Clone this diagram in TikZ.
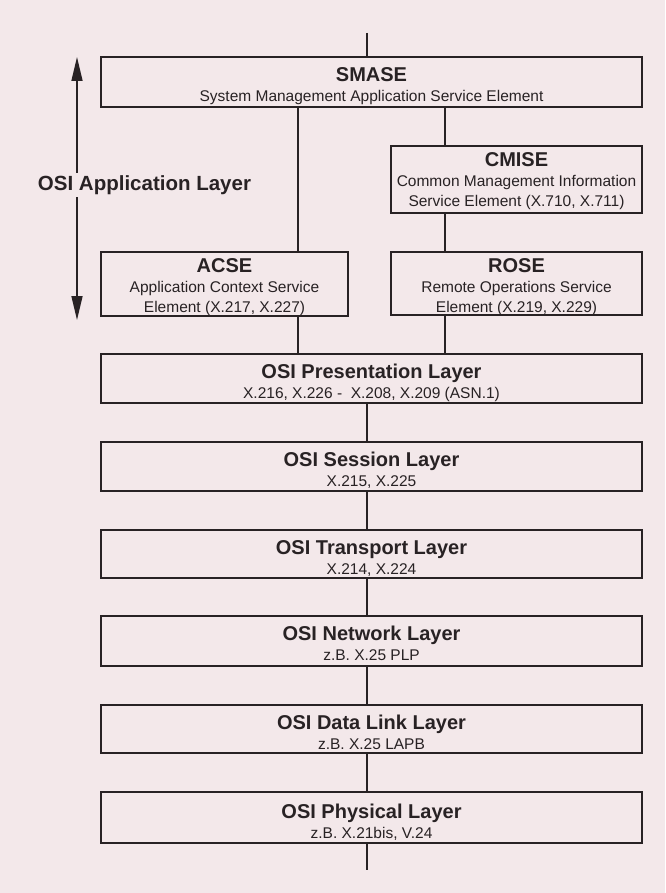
\documentclass[tikz,border=0pt]{standalone}
\usepackage{fontspec}
\setmainfont{Liberation Sans}
\usetikzlibrary{arrows.meta}
\definecolor{bg}{RGB}{243,232,234}
\definecolor{ink}{RGB}{40,34,36}
\newcommand\ttl[1]{{\bfseries\fontsize{20}{20}\selectfont #1}}
\begin{document}
\begin{tikzpicture}[x=1pt,y=-1pt,font=\fontsize{15.5}{20}\selectfont]
\tikzset{
  blk/.style={draw=ink, line width=1.7pt, align=center, inner sep=0pt, text=ink},
  hd/.style 2 args={text height=#1, text depth=#2},
  wire/.style={draw=ink, line width=1.6pt},
  dblarrow/.style={{Triangle[length=24pt,width=11pt]}-{Triangle[length=24pt,width=11pt]}}
}
\fill[bg] (0,0) rectangle (665,893);
\useasboundingbox (0,0) rectangle (665,893);

% boxes
\node[blk, minimum width=541pt, hd={44.5pt}{5.5pt}] (smase) at (371.5,82)
  {\ttl{SMASE}\\System Management Application Service Element};
\node[blk, minimum width=251pt, hd={60.5pt}{6.5pt}] (cmise) at (516.5,179.5)
  {\ttl{CMISE}\\Common Management Information\\Service Element (X.710, X.711)};
\node[blk, minimum width=247pt, hd={60pt}{4pt}] (acse) at (224.5,284)
  {\ttl{ACSE}\\Application Context Service\\Element (X.217, X.227)};
\node[blk, minimum width=251pt, hd={60pt}{3pt}] (rose) at (516.5,283.5)
  {\ttl{ROSE}\\Remote Operations Service\\Element (X.219, X.229)};
\node[blk, minimum width=541pt, hd={44pt}{5pt}] (pres) at (371.5,378.5)
  {\ttl{OSI Presentation Layer}\\X.216, X.226 -\ \ X.208, X.209 (ASN.1)};
\node[blk, minimum width=541pt, hd={44.5pt}{4.5pt}] (sess) at (371.5,466.5)
  {\ttl{OSI Session Layer}\\X.215, X.225};
\node[blk, minimum width=541pt, hd={44.5pt}{3.5pt}] (trans) at (371.5,554)
  {\ttl{OSI Transport Layer}\\X.214, X.224};
\node[blk, minimum width=541pt, hd={44.5pt}{5.5pt}] (net) at (371.5,641)
  {\ttl{OSI Network Layer}\\z.B. X.25 PLP};
\node[blk, minimum width=541pt, hd={44.5pt}{3.5pt}] (dl) at (371.5,729)
  {\ttl{OSI Data Link Layer}\\z.B. X.25 LAPB};
\node[blk, minimum width=541pt, hd={46pt}{5pt}] (phys) at (371.5,817.5)
  {\ttl{OSI Physical Layer}\\z.B. X.21bis, V.24};

% helper coordinates
\coordinate (top) at (367,33);
\coordinate (bot) at (367,870);
\coordinate (xa) at (298,0);
\coordinate (xb) at (445,0);
\coordinate (xm) at (367,0);

% connectors
\draw[wire] (top) -- (smase.north -| top);
\draw[wire] (smase.south -| xa) -- (acse.north -| xa);
\draw[wire] (smase.south -| xb) -- (cmise.north -| xb);
\draw[wire] (cmise.south -| xb) -- (rose.north -| xb);
\draw[wire] (acse.south -| xa) -- (pres.north -| xa);
\draw[wire] (rose.south -| xb) -- (pres.north -| xb);
\draw[wire] (pres.south -| xm) -- (sess.north -| xm);
\draw[wire] (sess.south -| xm) -- (trans.north -| xm);
\draw[wire] (trans.south -| xm) -- (net.north -| xm);
\draw[wire] (net.south -| xm) -- (dl.north -| xm);
\draw[wire] (dl.south -| xm) -- (phys.north -| xm);
\draw[wire] (phys.south -| bot) -- (bot);

% application layer arrow
\coordinate (au) at (77,57);
\coordinate (ad) at (77,320);
\draw[wire, dblarrow] (au) -- (ad);
\node[fill=bg, inner xsep=0pt, inner ysep=2pt, text=ink,
      font=\bfseries\fontsize{20.5}{22}\selectfont] (app) at (144.5,185) {OSI Application Layer};
\end{tikzpicture}
\end{document}
